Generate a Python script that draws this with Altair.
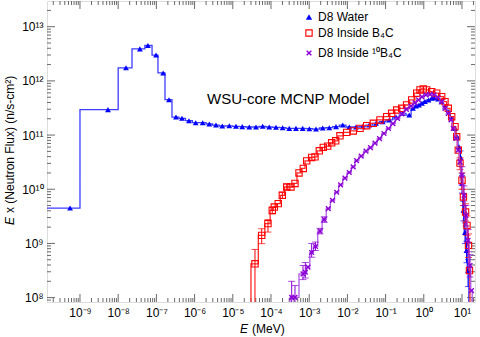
import altair as alt
import numpy as np
import pandas as pd

FONT = "Liberation Sans"
BLUE, BLUE_LINE = "#0000ff", "#3d3dff"
RED, RED_LINE = "#ff0000", "#ff2a2a"
PURPLE, PURPLE_LINE = "#8a00d4", "#b058e8"

# ---------------- data ----------------
# D8 Water, coarse low-energy histogram bins
water_bin_lo = [1.0e-10, 1.0e-9, 1.0e-8, 2.3e-8, 5.0e-8, 7.7e-8, 1.1e-7, 1.68e-7]
water_bin_hi = [1.0e-9, 1.0e-8, 2.3e-8, 5.0e-8, 7.7e-8, 1.1e-7, 1.68e-7, 2.56e-7]
water_bin_flux = [4.5e9, 2.95e11, 1.74e12, 3.9e12, 4.5e12, 3.0e12, 1.4e12, 4.5e11]
water_bin_mark_E = [5.5e-10, 5.4e-9, 1.6e-8, 3.7e-8, 6.0e-8, 9.8e-8, 1.5e-7, 2.14e-7]

# D8 Water, fine bins
water_E = [3.26e-7, 4.68e-7, 7.13e-7, 1.07e-6, 1.63e-6, 2.43e-6, 3.63e-6, 5.31e-6, 8.1e-6,
           1.21e-5, 1.77e-5, 2.70e-5, 4.05e-5, 6.06e-5, 9.0e-5, 1.35e-4, 2.02e-4, 3.01e-4,
           4.51e-4, 6.76e-4, 1.01e-3, 1.51e-3, 2.26e-3, 3.36e-3, 5.04e-3, 7.54e-3, 1.12e-2,
           1.68e-2, 2.51e-2, 3.74e-2, 5.61e-2, 8.4e-2, 0.125, 0.187, 0.280, 0.417, 0.521,
           0.625, 0.748, 0.897, 1.07, 1.33, 1.64, 1.96, 2.35, 2.90, 3.59, 4.38, 5.37, 6.56,
           7.40, 8.34, 9.14, 10.0, 10.9, 12.0, 13.1, 14.4]
water_F = [2.15e11, 2.04e11, 1.84e11, 1.69e11, 1.69e11, 1.60e11, 1.53e11, 1.47e11, 1.48e11,
           1.45e11, 1.43e11, 1.41e11, 1.41e11, 1.45e11, 1.41e11, 1.39e11, 1.37e11, 1.33e11,
           1.33e11, 1.33e11, 1.31e11, 1.29e11, 1.35e11, 1.37e11, 1.43e11, 1.53e11, 1.41e11,
           1.41e11, 1.43e11, 1.53e11, 1.65e11, 1.76e11, 1.90e11, 2.15e11, 2.52e11, 2.34e11,
           3.12e11, 3.44e11, 3.59e11, 3.87e11, 4.17e11, 4.45e11, 4.79e11, 4.91e11, 4.64e11,
           4.14e11, 3.34e11, 2.70e11, 2.04e11, 1.33e11, 9.3e10, 6.07e10, 3.92e10, 1.29e10,
           4.08e9, 1.60e9, 7.41e8, 3.16e8]
water_err_E = [9.14, 10.0, 10.9, 12.0, 13.1, 14.4]
water_err_lo = [2.9e10, 8.5e9, 2.6e9, 1.0e9, 4.4e8, 1.6e8]
water_err_hi = [5.1e10, 1.8e10, 6.0e9, 2.4e9, 1.1e9, 5.0e8]

# D8 Inside B4C
red_start_edge = 2.99e-5
red_E = [3.81e-5, 5.71e-5, 8.34e-5, 1.08e-4, 1.22e-4, 1.55e-4, 1.98e-4, 2.58e-4, 3.34e-4,
         4.25e-4, 5.41e-4, 7.01e-4, 8.61e-4, 1.16e-3, 1.42e-3, 1.84e-3, 2.34e-3, 3.05e-3,
         3.88e-3, 4.94e-3, 6.39e-3, 9.59e-3, 1.43e-2, 2.14e-2, 3.20e-2, 4.77e-2, 7.13e-2,
         0.107, 0.144, 0.195, 0.264, 0.355, 0.482, 0.652, 0.796, 0.971, 1.19, 1.61, 2.18,
         2.94, 3.59, 4.38, 5.37, 6.56, 7.26, 8.0, 8.87, 10.0, 10.9, 12.4, 13.5, 14.8, 15.7]
red_F = [4.21e8, 1.41e9, 2.32e9, 4.08e9, 4.70e9, 5.43e9, 7.74e9, 1.10e10, 1.10e10,
         1.28e10, 2.0e10, 2.42e10, 3.34e10, 3.86e10, 3.96e10, 5.12e10, 5.92e10, 6.25e10,
         7.19e10, 7.83e10, 9.7e10, 1.12e11, 1.19e11, 1.33e11, 1.49e11, 1.65e11, 1.90e11,
         2.18e11, 2.52e11, 2.90e11, 3.12e11, 3.59e11, 4.45e11, 5.92e11, 6.81e11, 7.11e11,
         6.81e11, 6.34e11, 5.92e11, 5.12e11, 4.14e11, 3.12e11, 2.18e11, 1.43e11, 9.3e10,
         5.27e10, 3.03e10, 1.47e10, 7.19e9, 3.80e9, 2.15e9, 9.2e8, 3.16e8]
red_err_E = [3.81e-5, 5.71e-5, 8.34e-5, 1.08e-4, 1.98e-4, 2.58e-4, 8.87, 10.0, 10.9, 12.4, 13.5, 14.8]
red_err_lo = [1.0e6, 9.9e8, 1.62e9, 3.5e9, 6.8e9, 9.8e9, 2.3e10, 1.0e10, 5.0e9, 2.6e9, 1.4e9, 5.5e8]
red_err_hi = [7.74e8, 1.87e9, 2.75e9, 4.7e9, 8.8e9, 1.25e10, 3.8e10, 2.0e10, 1.0e10, 5.4e9, 3.2e9, 1.5e9]

# D8 Inside 10B4C
purple_E = [3.48e-4, 4.25e-4, 6.89e-4, 7.91e-4, 9.31e-4, 1.16e-3, 1.46e-3, 1.92e-3, 2.47e-3,
            3.16e-3, 4.07e-3, 5.25e-3, 6.64e-3, 8.64e-3, 1.12e-2, 1.42e-2, 1.74e-2, 2.30e-2,
            3.07e-2, 4.02e-2, 5.28e-2, 6.93e-2, 9.08e-2, 0.119, 0.156, 0.205, 0.269, 0.352,
            0.462, 0.589, 0.727, 0.897, 1.14, 1.45, 1.85, 2.35, 2.94, 3.59, 4.38, 5.15, 5.92,
            6.96, 8.0, 8.87, 10.0, 11.3, 12.7, 14.4, 16.2, 17.7]
purple_F = [1.01e8, 1.01e8, 2.75e8, 2.94e8, 3.64e8, 6.81e8, 8.79e8, 1.69e9, 2.75e9,
            4.39e9, 6.25e9, 8.79e9, 1.20e10, 1.60e10, 2.04e10, 2.59e10, 3.37e10, 4.08e10,
            5.06e10, 5.88e10, 7.11e10, 8.61e10, 1.07e11, 1.32e11, 1.63e11, 2.02e11, 2.45e11,
            2.97e11, 3.44e11, 3.92e11, 4.45e11, 5.06e11, 5.51e11, 5.62e11, 5.51e11, 4.94e11,
            4.14e11, 3.12e11, 2.52e11, 1.90e11, 1.33e11, 8.69e10, 5.27e10, 3.21e10, 1.82e10,
            7.74e9, 3.30e9, 1.14e9, 3.92e8, 1.35e8]
purple_err_E = [3.48e-4, 4.25e-4, 6.89e-4, 7.91e-4, 1.16e-3, 1.46e-3, 1.92e-3, 2.47e-3,
                10.0, 11.3, 12.7, 14.4, 16.2]
purple_err_lo = [1.0e6, 1.0e6, 2.15e8, 2.3e8, 5.57e8, 7.41e8, 1.5e9, 2.45e9,
                 1.2e10, 5.0e9, 2.1e9, 7.0e8, 2.4e8]
purple_err_hi = [2.0e8, 1.67e8, 3.92e8, 4.45e8, 1.0e9, 1.06e9, 1.9e9, 3.1e9,
                 2.6e10, 1.15e10, 5.0e9, 1.8e9, 6.2e8]

legend_labels = ["D8 Water", "D8 Inside B\u2084C", "D8 Inside \u00b9\u2070B\u2084C"]
annotation = "WSU-core MCNP Model"
x_exps = list(range(-9, 2))
y_exps = list(range(8, 14))
FLOOR = 1.0e6

# ---------------- helpers ----------------
def step_bins(E, F, first_lo):
    E = np.asarray(E, float)
    mids = np.sqrt(E[:-1] * E[1:])
    lo = np.concatenate([[first_lo], mids])
    hi = np.concatenate([mids, [E[-1] * np.sqrt(E[-1] / E[-2])]])
    return list(lo), list(hi), list(F)

def path_df(bins_list, start_floor=None, end_floor=True):
    xs, ys = [], []
    if start_floor is not None:
        xs.append(start_floor); ys.append(FLOOR)
    for lo, hi, f in bins_list:
        for a, b, v in zip(lo, hi, f):
            xs += [a, b]; ys += [v, v]
    if end_floor:
        xs.append(xs[-1]); ys.append(FLOOR)
    return pd.DataFrame({"E": xs, "F": ys, "i": range(len(xs))})

SUP = {'0': '\u2070', '1': '\u00b9', '2': '\u00b2', '3': '\u00b3', '4': '\u2074', '5': '\u2075',
       '6': '\u2076', '7': '\u2077', '8': '\u2078', '9': '\u2079', '-': '\u207b'}
def sup10(k):
    return "10" + "".join(SUP[c] for c in str(k))

W, H = 428, 301
xs = alt.Scale(type="log", domain=[1.37e-10, 21.9], nice=False)
ys = alt.Scale(type="log", domain=[8.3e7, 2.98e13], nice=False)

x_lab_arr = "[" + ",".join("'%s'" % sup10(k) for k in x_exps) + "]"
y_lab_arr = "[" + ",".join("'%s'" % sup10(k) for k in y_exps) + "]"
xaxis = alt.Axis(values=[10.0 ** k for k in x_exps], title=None, domain=False, ticks=False,
                 grid=False, labelFont=FONT, labelFontSize=12, labelColor="black",
                 labelPadding=5, labelFlush=False, labelOverlap=False,
                 labelExpr=x_lab_arr + "[round(log(datum.value)/LN10)+9]")
yaxis = alt.Axis(values=[10.0 ** k for k in y_exps], title=None, domain=False, ticks=False,
                 grid=False, labelFont=FONT, labelFontSize=12, labelColor="black",
                 labelPadding=4, labelFlush=False, labelOverlap=False,
                 labelExpr=y_lab_arr + "[round(log(datum.value)/LN10)-8]")

def X(f="E"):
    return alt.X(f + ":Q", scale=xs, axis=xaxis)
def Y(f="F"):
    return alt.Y(f + ":Q", scale=ys, axis=yaxis)

layers = []

# ---- tick marks (inside, all four sides) ----
x_major = [10.0 ** k for k in x_exps]
x_minor = [m * 10.0 ** k for k in range(-10, 2) for m in range(2, 10)
           if 1.37e-10 <= m * 10.0 ** k <= 21.9]
y_major = [10.0 ** k for k in y_exps]
y_minor = [m * 10.0 ** k for k in range(7, 14) for m in range(2, 10)
           if 8.3e7 <= m * 10.0 ** k <= 2.98e13]
TC = "#6a6a6a"
for vals, ln in [(x_major, 8), (x_minor, 4)]:
    d = pd.DataFrame({"E": vals})
    layers.append(alt.Chart(d).mark_rule(color=TC, strokeWidth=1).encode(
        x=X(), y=alt.value(H), y2=alt.value(H - ln)))
    layers.append(alt.Chart(d).mark_rule(color=TC, strokeWidth=1).encode(
        x=X(), y=alt.value(0), y2=alt.value(ln)))
for vals, ln in [(y_major, 8), (y_minor, 4)]:
    d = pd.DataFrame({"F": vals})
    layers.append(alt.Chart(d).mark_rule(color=TC, strokeWidth=1).encode(
        y=Y(), x=alt.value(0), x2=alt.value(ln)))
    layers.append(alt.Chart(d).mark_rule(color=TC, strokeWidth=1).encode(
        y=Y(), x=alt.value(W), x2=alt.value(W - ln)))

# ---- D8 Water ----
w_fine = step_bins(water_E, water_F, water_bin_hi[-1])
w_path = path_df([(water_bin_lo, water_bin_hi, water_bin_flux), w_fine])
layers.append(alt.Chart(w_path).mark_line(color=BLUE_LINE, strokeWidth=1.3, clip=True).encode(
    x=X(), y=Y(), order="i:Q"))
w_err = pd.DataFrame({"E": water_err_E, "lo": water_err_lo, "hi": water_err_hi})
layers.append(alt.Chart(w_err).mark_rule(color=BLUE, strokeWidth=1, clip=True).encode(
    x=X(), y=Y("lo"), y2="hi:Q"))
for fld in ["lo", "hi"]:
    layers.append(alt.Chart(w_err).mark_tick(color=BLUE, orient="horizontal", size=6,
                                             thickness=1, clip=True).encode(x=X(), y=Y(fld)))
w_pts = pd.DataFrame({"E": water_bin_mark_E + water_E, "F": water_bin_flux + water_F})
layers.append(alt.Chart(w_pts).mark_point(shape="triangle-up", filled=True, color=BLUE,
                                           size=34, opacity=1, clip=True).encode(x=X(), y=Y()))

# ---- D8 Inside B4C ----
r_path = path_df([step_bins(red_E, red_F, red_start_edge)], start_floor=red_start_edge)
layers.append(alt.Chart(r_path).mark_line(color=RED_LINE, strokeWidth=1.3, clip=True).encode(
    x=X(), y=Y(), order="i:Q"))
r_err = pd.DataFrame({"E": red_err_E, "lo": red_err_lo, "hi": red_err_hi})
layers.append(alt.Chart(r_err).mark_rule(color=RED, strokeWidth=1, clip=True).encode(
    x=X(), y=Y("lo"), y2="hi:Q"))
for fld in ["lo", "hi"]:
    layers.append(alt.Chart(r_err).mark_tick(color=RED, orient="horizontal", size=7,
                                             thickness=1, clip=True).encode(x=X(), y=Y(fld)))
r_pts = pd.DataFrame({"E": red_E, "F": red_F})
layers.append(alt.Chart(r_pts).mark_point(shape="square", filled=False, color=RED,
                                           strokeWidth=1.1, size=40, opacity=1,
                                           clip=True).encode(x=X(), y=Y()))

# ---- D8 Inside 10B4C ----
p_lo, p_hi, p_f = step_bins(purple_E, purple_F, None)
p_lo[0] = purple_E[0] / np.sqrt(purple_E[1] / purple_E[0])
p_path = path_df([(p_lo, p_hi, p_f)], start_floor=p_lo[0])
layers.append(alt.Chart(p_path).mark_line(color=PURPLE_LINE, strokeWidth=1.3, clip=True).encode(
    x=X(), y=Y(), order="i:Q"))
p_err = pd.DataFrame({"E": purple_err_E, "lo": purple_err_lo, "hi": purple_err_hi})
layers.append(alt.Chart(p_err).mark_rule(color=PURPLE, strokeWidth=1, clip=True).encode(
    x=X(), y=Y("lo"), y2="hi:Q"))
for fld in ["lo", "hi"]:
    layers.append(alt.Chart(p_err).mark_tick(color=PURPLE, orient="horizontal", size=7,
                                             thickness=1, clip=True).encode(x=X(), y=Y(fld)))
XSHAPE = "M-1,-1L1,1M-1,1L1,-1"
p_pts = pd.DataFrame({"E": purple_E, "F": purple_F})
layers.append(alt.Chart(p_pts).mark_point(shape=XSHAPE, filled=False, color=PURPLE,
                                           strokeWidth=1.4, size=22, opacity=1,
                                           clip=True).encode(x=X(), y=Y()))

# ---- texts, legend, titles (pixel offsets relative to the plot area) ----
one = alt.Data(values=[{}])
def txt(s, x, y, size=12, **kw):
    return alt.Chart(one).mark_text(text=s, font=FONT, fontSize=size, color="black",
                                    baseline="middle", **kw).encode(
        x=alt.value(x), y=alt.value(y))

layers.append(txt(annotation, 160, 98, size=15, align="left"))

leg_y = [16, 32, 52]
layers.append(alt.Chart(one).mark_point(shape="triangle-up", filled=True, color=BLUE, size=40,
                                        opacity=1).encode(x=alt.value(262), y=alt.value(leg_y[0])))
layers.append(alt.Chart(one).mark_point(shape="square", filled=False, color=RED, size=40,
                                        strokeWidth=1.1, opacity=1).encode(x=alt.value(262), y=alt.value(leg_y[1])))
layers.append(alt.Chart(one).mark_point(shape=XSHAPE, filled=False, color=PURPLE, size=22,
                                        strokeWidth=1.4, opacity=1).encode(x=alt.value(262), y=alt.value(leg_y[2])))
for lab, yy in zip(legend_labels, leg_y):
    layers.append(txt(lab, 271, yy, size=12, align="left"))

# x title: italic E + (MeV)
layers.append(txt("E", 193, 328, size=12, align="left", fontStyle="italic"))
layers.append(txt("(MeV)", 205, 328, size=12, align="left"))
# y title (rotated)
layers.append(txt("E", -37, 224, size=12, align="left", fontStyle="italic", angle=270))
layers.append(txt("x (Neutron Flux) (n/s-cm\u00b2)", -37, 212, size=12, align="left", angle=270))

chart = alt.layer(*layers).properties(
    width=W, height=H, autosize="none",
    padding={"left": 47, "top": 1, "right": 5, "bottom": 35},
).configure_view(stroke="#333333", strokeWidth=1).configure(background="white")

chart.save("out.html", embed_options={"renderer": "svg", "actions": False})
